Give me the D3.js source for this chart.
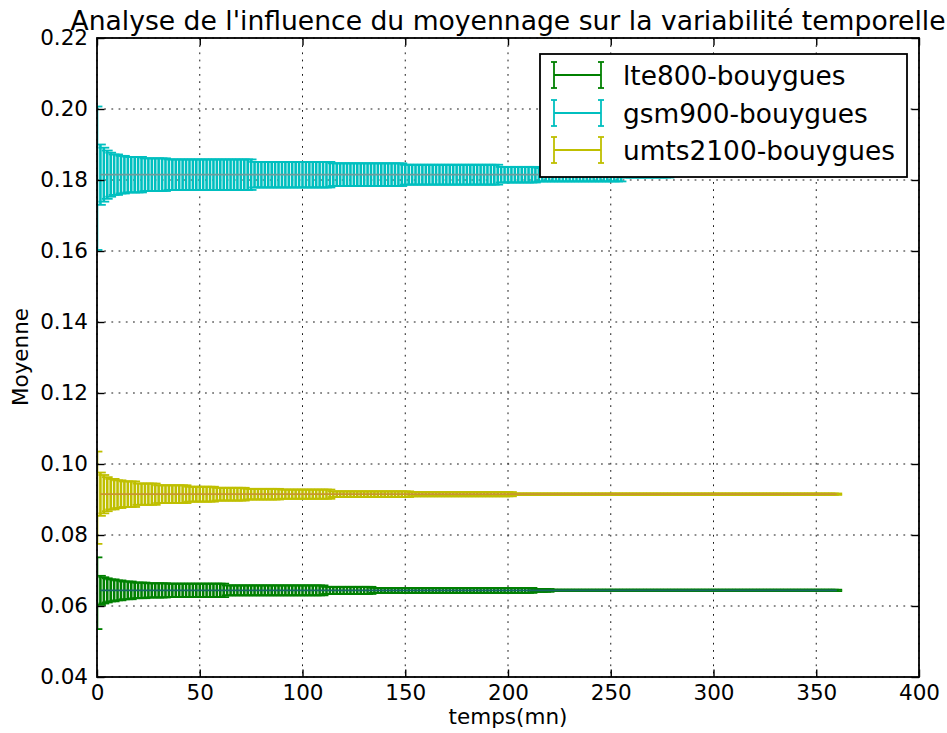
<!DOCTYPE html>
<html>
<head>
<meta charset="utf-8">
<script src="https://cdn.jsdelivr.net/npm/d3@7"></script>
<style>
  body { margin: 0; background: #fff; }
  text { font-family: "DejaVu Sans", sans-serif; fill: #000; }
</style>
</head>
<body>
<svg id="chart" width="947" height="733"></svg>
<script>
// Series shown in the legend, in drawing order
const seriesNames = ["lte800-bouygues", "gsm900-bouygues", "umts2100-bouygues"];
const seriesColors = ["#008000", "#00bfbf", "#bfbf00"];
const meanLineColors = ["#176565", "#6f9b9b", "#c9952e"];

const xTicks = [0, 50, 100, 150, 200, 250, 300, 350, 400];
const yTicks = [0.04, 0.06, 0.08, 0.10, 0.12, 0.14, 0.16, 0.18, 0.20, 0.22];

// Averaging windows are spaced 100 s apart (in minutes)
const windowStep = 5 / 3;

// Each run: [first window (mn), mean, half-width of the error bar]
// A run holds until the next one starts.
const lteRuns = [
  [0, 0.0636, 0.0101],
  [1.6, 0.0644, 0.0041],
  [3.3, 0.0644, 0.0037],
  [5, 0.0644, 0.0034],
  [6.6, 0.0644, 0.0031],
  [10, 0.0644, 0.0028],
  [13, 0.0644, 0.0025],
  [18, 0.0644, 0.0022],
  [25, 0.0644, 0.0020],
  [35, 0.0644, 0.0019],
  [62, 0.0644, 0.0014],
  [111, 0.0644, 0.0010],
  [134, 0.0644, 0.0007],
  [212, 0.0644, 0.0004],
  [221, 0.0644, 0.0002]
];
const lteEnd = 361;

const gsmRuns = [
  [0, 0.1805, 0.0202],
  [1.6, 0.1815, 0.0085],
  [3.3, 0.1815, 0.0076],
  [5, 0.1815, 0.0068],
  [6.6, 0.1815, 0.0062],
  [8.3, 0.1815, 0.0057],
  [11, 0.1815, 0.0053],
  [15, 0.1815, 0.0050],
  [22, 0.1815, 0.0046],
  [35, 0.1815, 0.0043],
  [76, 0.1815, 0.0036],
  [115, 0.1815, 0.0032],
  [150, 0.1815, 0.0028],
  [196, 0.1815, 0.0022],
  [215, 0.1815, 0.0019],
  [256, 0.1815, 0.0008],
  [280, 0.1815, 0.0002]
];
const gsmEnd = 300;

const umtsRuns = [
  [0, 0.0905, 0.0130],
  [1.6, 0.0915, 0.0061],
  [3.3, 0.0915, 0.0054],
  [5, 0.0915, 0.0048],
  [6.6, 0.0915, 0.0043],
  [9, 0.0915, 0.0039],
  [13, 0.0915, 0.0036],
  [20, 0.0915, 0.0030],
  [30, 0.0915, 0.0025],
  [45, 0.0915, 0.0021],
  [58, 0.0915, 0.0018],
  [72, 0.0915, 0.0015],
  [90, 0.0915, 0.0013],
  [115, 0.0915, 0.0008],
  [152, 0.0915, 0.0006],
  [203, 0.0915, 0.0002]
];
const umtsEnd = 361;

const allRuns = [lteRuns, gsmRuns, umtsRuns];
const allEnds = [lteEnd, gsmEnd, umtsEnd];

// Expand runs into one error bar per averaging window
function expand(runs, end) {
  const pts = [];
  for (let i = 0; i * windowStep <= end + 1e-9; i++) {
    const t = i * windowStep;
    let r = runs[0];
    for (const run of runs) if (run[0] <= t + 1e-6) r = run;
    pts.push({ t, mean: r[1], err: r[2] });
  }
  return pts;
}

const svg = d3.select("#chart");
const W = 947, H = 733;
const plot = { left: 97, right: 919, top: 38, bottom: 677 };

const x = d3.scaleLinear().domain([0, 400]).range([plot.left, plot.right]);
const y = d3.scaleLinear().domain([0.04, 0.22]).range([plot.bottom, plot.top]);

svg.append("rect").attr("width", W).attr("height", H).attr("fill", "#fff");

svg.append("defs").append("clipPath").attr("id", "plotClip")
  .append("rect")
  .attr("x", plot.left).attr("y", plot.top)
  .attr("width", plot.right - plot.left).attr("height", plot.bottom - plot.top);

// Dotted grid
const grid = svg.append("g").attr("stroke", "#000").attr("stroke-width", 0.9)
  .attr("stroke-dasharray", "1.8,5.4");
grid.selectAll("line.gx").data(xTicks).join("line").attr("class", "gx")
  .attr("x1", d => x(d)).attr("x2", d => x(d))
  .attr("y1", plot.top).attr("y2", plot.bottom);
grid.selectAll("line.gy").data(yTicks).join("line").attr("class", "gy")
  .attr("y1", d => y(d)).attr("y2", d => y(d))
  .attr("x1", plot.left).attr("x2", plot.right);

// Error bars
const data = allRuns.map((runs, k) => expand(runs, allEnds[k]));
const capHalf = 5.4;
const marks = svg.append("g").attr("clip-path", "url(#plotClip)");

data.forEach((pts, k) => {
  const g = marks.append("g").attr("stroke", seriesColors[k]).attr("fill", "none");
  g.selectAll("line.bar").data(pts).join("line").attr("class", "bar")
    .attr("stroke-width", 2.6)
    .attr("x1", d => x(d.t)).attr("x2", d => x(d.t))
    .attr("y1", d => y(d.mean - d.err)).attr("y2", d => y(d.mean + d.err));
  g.selectAll("line.capTop").data(pts).join("line").attr("class", "capTop")
    .attr("stroke-width", 1.8)
    .attr("x1", d => x(d.t) - capHalf).attr("x2", d => x(d.t) + capHalf)
    .attr("y1", d => y(d.mean + d.err)).attr("y2", d => y(d.mean + d.err));
  g.selectAll("line.capBot").data(pts).join("line").attr("class", "capBot")
    .attr("stroke-width", 1.8)
    .attr("x1", d => x(d.t) - capHalf).attr("x2", d => x(d.t) + capHalf)
    .attr("y1", d => y(d.mean - d.err)).attr("y2", d => y(d.mean - d.err));
});

// Mean lines through the bars
data.forEach((pts, k) => {
  marks.append("path").datum(pts.slice(1))
    .attr("fill", "none").attr("stroke", meanLineColors[k]).attr("stroke-width", 1.8)
    .attr("d", d3.line().x(d => x(d.t)).y(d => y(d.mean)));
});

// Axes with inward ticks on all four sides
const tickFont = "21.5px";
const axB = svg.append("g").attr("transform", `translate(0,${plot.bottom})`)
  .call(d3.axisBottom(x).tickValues(xTicks).tickSize(-7.5).tickPadding(8).tickFormat(d3.format("d")));
const axL = svg.append("g").attr("transform", `translate(${plot.left},0)`)
  .call(d3.axisLeft(y).tickValues(yTicks).tickSize(-7.5).tickPadding(9).tickFormat(d3.format(".2f")));
const axT = svg.append("g").attr("transform", `translate(0,${plot.top})`)
  .call(d3.axisTop(x).tickValues(xTicks).tickSize(-7.5).tickFormat(""));
const axR = svg.append("g").attr("transform", `translate(${plot.right},0)`)
  .call(d3.axisRight(y).tickValues(yTicks).tickSize(-7.5).tickFormat(""));
[axB, axL, axT, axR].forEach(a => {
  a.select(".domain").remove();
  a.selectAll("line").attr("stroke", "#000").attr("stroke-width", 1.4);
  a.selectAll("text").attr("font-family", "DejaVu Sans").attr("font-size", tickFont).attr("fill", "#000");
});

svg.append("rect")
  .attr("x", plot.left).attr("y", plot.top)
  .attr("width", plot.right - plot.left).attr("height", plot.bottom - plot.top)
  .attr("fill", "none").attr("stroke", "#000").attr("stroke-width", 1.8);

// Titles
svg.append("text").attr("x", (plot.left + plot.right) / 2).attr("y", 30)
  .attr("text-anchor", "middle").attr("font-size", "26.6px")
  .text("Analyse de l'influence du moyennage sur la variabilité temporelle");
svg.append("text").attr("x", (plot.left + plot.right) / 2).attr("y", 724)
  .attr("text-anchor", "middle").attr("font-size", "21.5px").text("temps(mn)");
svg.append("text").attr("transform", "translate(28,357) rotate(-90)")
  .attr("text-anchor", "middle").attr("font-size", "21.5px").text("Moyenne");

// Legend
const legend = svg.append("g");
legend.append("rect").attr("x", 540).attr("y", 54).attr("width", 367).attr("height", 123)
  .attr("fill", "#fff").attr("stroke", "#000").attr("stroke-width", 1.8);
const rowY = [75, 113, 150];
seriesNames.forEach((name, k) => {
  const g = legend.append("g").attr("stroke", seriesColors[k]).attr("stroke-width", 1.8).attr("fill", "none");
  const cy = rowY[k], x0 = 554, x1 = 601, h = 13;
  g.append("line").attr("x1", x0).attr("x2", x1).attr("y1", cy).attr("y2", cy);
  [x0, x1].forEach(xx => {
    g.append("line").attr("x1", xx).attr("x2", xx).attr("y1", cy - h).attr("y2", cy + h);
    g.append("line").attr("x1", xx - 3).attr("x2", xx + 3).attr("y1", cy - h).attr("y2", cy - h);
    g.append("line").attr("x1", xx - 3).attr("x2", xx + 3).attr("y1", cy + h).attr("y2", cy + h);
  });
  legend.append("text").attr("x", 623).attr("y", cy + 10).attr("font-size", "26.4px").text(name);
});
</script>
</body>
</html>
